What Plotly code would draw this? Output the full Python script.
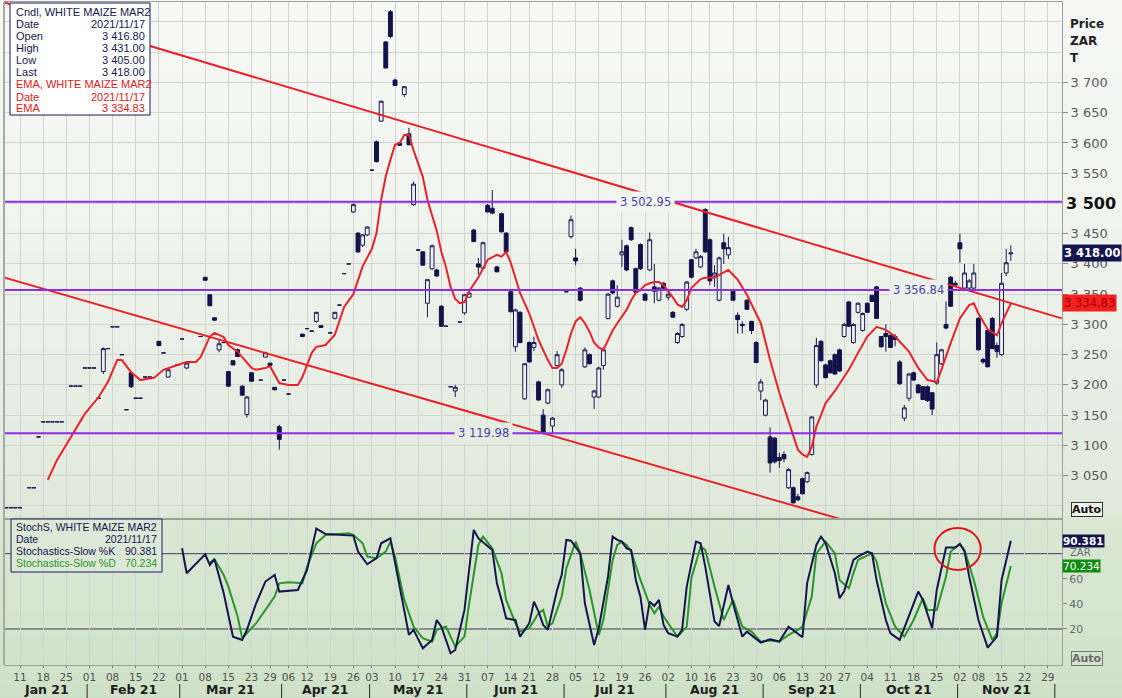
import plotly.graph_objects as go
import pandas as pd

# ------------------------------------------------------------------ data
holidays = ["2021-03-22", "2021-04-02", "2021-04-05", "2021-04-27",
            "2021-06-16", "2021-08-09", "2021-09-24", "2021-11-01"]
calendar_start = "2021-01-04"
calendar_end = "2021-12-03"

candle_dates = [
    "2021-01-06", "2021-01-07", "2021-01-08",
    "2021-01-11", "2021-01-13", "2021-01-14", "2021-01-15",
    "2021-01-18", "2021-01-19", "2021-01-20", "2021-01-21", "2021-01-22",
    "2021-01-26", "2021-01-27", "2021-01-28", "2021-01-29",
    "2021-02-01", "2021-02-02", "2021-02-03", "2021-02-04", "2021-02-05",
    "2021-02-08", "2021-02-09", "2021-02-10", "2021-02-11", "2021-02-12",
    "2021-02-15", "2021-02-16", "2021-02-17", "2021-02-18",
    "2021-02-22", "2021-02-23", "2021-02-24", "2021-02-26",
    "2021-03-01", "2021-03-02", "2021-03-05",
    "2021-03-08", "2021-03-09", "2021-03-10", "2021-03-11", "2021-03-12",
    "2021-03-15", "2021-03-16", "2021-03-17", "2021-03-18", "2021-03-19",
    "2021-03-23", "2021-03-25", "2021-03-26",
    "2021-03-29", "2021-03-30", "2021-03-31", "2021-04-01",
    "2021-04-06", "2021-04-09",
    "2021-04-12", "2021-04-13", "2021-04-14", "2021-04-15",
    "2021-04-19", "2021-04-20", "2021-04-21", "2021-04-22", "2021-04-23",
    "2021-04-26", "2021-04-28", "2021-04-29", "2021-04-30",
    "2021-05-03", "2021-05-04", "2021-05-05", "2021-05-06", "2021-05-07",
    "2021-05-10", "2021-05-11", "2021-05-12", "2021-05-13", "2021-05-14",
    "2021-05-17", "2021-05-18", "2021-05-19", "2021-05-20", "2021-05-21",
    "2021-05-24", "2021-05-25", "2021-05-26", "2021-05-27", "2021-05-28",
    "2021-05-31", "2021-06-01", "2021-06-02", "2021-06-03", "2021-06-04",
    "2021-06-07", "2021-06-08", "2021-06-09", "2021-06-10", "2021-06-11",
    "2021-06-14", "2021-06-15", "2021-06-17", "2021-06-18",
    "2021-06-21", "2021-06-22", "2021-06-23", "2021-06-24", "2021-06-25",
    "2021-06-28", "2021-06-29", "2021-06-30", "2021-07-01", "2021-07-02",
    "2021-07-05", "2021-07-06", "2021-07-07", "2021-07-08", "2021-07-09",
    "2021-07-12", "2021-07-13", "2021-07-14", "2021-07-15", "2021-07-16",
    "2021-07-19", "2021-07-20", "2021-07-21", "2021-07-22", "2021-07-23",
    "2021-07-26", "2021-07-27", "2021-07-28", "2021-07-29", "2021-07-30",
    "2021-08-02", "2021-08-03", "2021-08-04", "2021-08-05", "2021-08-06",
    "2021-08-10", "2021-08-11", "2021-08-12", "2021-08-13",
    "2021-08-16", "2021-08-17", "2021-08-18", "2021-08-19", "2021-08-20",
    "2021-08-23", "2021-08-24", "2021-08-25", "2021-08-26", "2021-08-27",
    "2021-08-30", "2021-08-31", "2021-09-01", "2021-09-02", "2021-09-03",
    "2021-09-06", "2021-09-07", "2021-09-08", "2021-09-09", "2021-09-10",
    "2021-09-13", "2021-09-14", "2021-09-15", "2021-09-16", "2021-09-17",
    "2021-09-20", "2021-09-21", "2021-09-22", "2021-09-23",
    "2021-09-27", "2021-09-28", "2021-09-29", "2021-09-30", "2021-10-01",
    "2021-10-04", "2021-10-05", "2021-10-06", "2021-10-07", "2021-10-08",
    "2021-10-11", "2021-10-12", "2021-10-13", "2021-10-14", "2021-10-15",
    "2021-10-18", "2021-10-19", "2021-10-20", "2021-10-21", "2021-10-22",
    "2021-10-25", "2021-10-26", "2021-10-27", "2021-10-28", "2021-10-29",
    "2021-11-02", "2021-11-03", "2021-11-04", "2021-11-05",
    "2021-11-08", "2021-11-09", "2021-11-10", "2021-11-11", "2021-11-12",
    "2021-11-15", "2021-11-16", "2021-11-17",
]
candle_open = [
    2997, 2997, 2997,
    2997, 3030, 3030, 3114,
    3139, 3139, 3139, 3139, 3139,
    3198, 3198, 3198, 3228,
    3228, 3228, 3178, 3222, 3260,
    3296, 3296, 3250, 3159, 3220,
    3178, 3178, 3213, 3213,
    3272, 3253, 3213, 3233,
    3276, 3228, 3280,
    3378, 3349, 3311, 3258, 3270,
    3222, 3240, 3258, 3198, 3151,
    3220, 3208, 3246,
    3236, 3196, 3131, 3208,
    3185, 3284,
    3293, 3289, 3305, 3298,
    3286, 3310, 3332, 3384, 3400,
    3486, 3451, 3431, 3448,
    3555, 3602, 3636, 3767, 3817,
    3704, 3600, 3680, 3615, 3498,
    3423, 3420, 3335, 3392, 3390,
    3330, 3297, 3197, 3190, 3304,
    3319, 3345, 3456, 3400, 3393,
    3497, 3492, 3395, 3483, 3451,
    3354, 3263, 3320, 3177,
    3270, 3262, 3205, 3150, 3170,
    3132, 3232, 3200, 3354, 3445,
    3410, 3360, 3230, 3250, 3180,
    3180, 3232, 3310, 3372, 3330,
    3415, 3430, 3460, 3392, 3432,
    3350, 3390, 3362, 3340, 3368,
    3345, 3320, 3270, 3280, 3325,
    3407, 3410, 3395, 3490,
    3440, 3380, 3340, 3435, 3415,
    3355, 3315, 3300, 3340, 3305,
    3270, 3190, 3150, 3114, 3112,
    3080, 3085, 3030, 3030, 3015,
    3045, 3040, 3085, 3200, 3272,
    3233, 3240, 3250, 3258,
    3280, 3337, 3270, 3320, 3290,
    3335, 3348, 3362, 3280, 3285,
    3282, 3280, 3238, 3145, 3178,
    3220, 3200, 3197, 3197, 3187,
    3203, 3235, 3300, 3378, 3368,
    3435, 3360, 3360, 3360,
    3310, 3242, 3290, 3310, 3265,
    3250, 3385, 3416.8,
]
candle_high = [
    2997, 2997, 2997,
    2997, 3030, 3030, 3114,
    3139, 3139, 3139, 3139, 3139,
    3198, 3198, 3198, 3228,
    3228, 3228, 3178, 3262, 3260,
    3296, 3296, 3250, 3159, 3222,
    3178, 3178, 3213, 3213,
    3272, 3253, 3226, 3233,
    3276, 3237, 3280,
    3378, 3350, 3311, 3274, 3270,
    3223, 3240, 3260, 3199, 3182,
    3221, 3208, 3255,
    3236, 3196, 3134, 3208,
    3185, 3284,
    3293, 3289, 3321, 3298,
    3286, 3321, 3332, 3384, 3400,
    3500, 3452, 3449, 3462,
    3555, 3604, 3670, 3768, 3820,
    3706, 3601, 3694, 3625, 3536,
    3423, 3421, 3375, 3432, 3392,
    3332, 3297, 3197, 3200, 3304,
    3350, 3355, 3458, 3410, 3437,
    3499, 3522, 3397, 3485, 3452,
    3356, 3326, 3322, 3236,
    3272, 3280, 3207, 3160, 3194,
    3147, 3256, 3228, 3354, 3480,
    3425, 3362, 3262, 3252, 3192,
    3230, 3262, 3352, 3374, 3365,
    3440, 3432, 3462, 3394, 3434,
    3352, 3452, 3400, 3362, 3370,
    3357, 3322, 3287, 3302, 3372,
    3408, 3425, 3415, 3492,
    3442, 3398, 3412, 3450, 3445,
    3358, 3320, 3305, 3342, 3306,
    3272, 3210, 3177, 3130, 3114,
    3088, 3090, 3062, 3032, 3020,
    3047, 3057, 3148, 3278, 3274,
    3235, 3242, 3252, 3260,
    3302, 3339, 3302, 3336, 3320,
    3336, 3349, 3364, 3281, 3300,
    3283, 3284, 3241, 3167, 3220,
    3222, 3201, 3198, 3199, 3188,
    3270, 3260, 3338, 3380, 3372,
    3450, 3400, 3375, 3400,
    3312, 3245, 3292, 3312, 3270,
    3385, 3425, 3431,
]
candle_low = [
    2997, 2997, 2997,
    2997, 3030, 3030, 3114,
    3139, 3139, 3139, 3139, 3139,
    3198, 3198, 3198, 3228,
    3228, 3228, 3178, 3218, 3260,
    3296, 3296, 3250, 3159, 3195,
    3178, 3178, 3213, 3213,
    3265, 3253, 3212, 3233,
    3276, 3226, 3280,
    3372, 3330, 3306, 3254, 3270,
    3197, 3233, 3246, 3182, 3146,
    3205, 3208, 3245,
    3231, 3191, 3093, 3208,
    3185, 3279,
    3293, 3289, 3303, 3294,
    3286, 3308, 3332, 3384, 3400,
    3484, 3418, 3428, 3446,
    3555, 3568, 3635, 3723, 3773,
    3694, 3595, 3676, 3596, 3496,
    3423, 3397, 3312, 3390, 3379,
    3296, 3297, 3197, 3180, 3304,
    3316, 3344, 3436, 3383, 3391,
    3485, 3482, 3386, 3452, 3418,
    3320, 3255, 3269, 3175,
    3237, 3256, 3174, 3118, 3168,
    3120, 3230, 3195, 3354, 3442,
    3398, 3338, 3228, 3234, 3160,
    3178, 3225, 3308, 3350, 3328,
    3395, 3388, 3438, 3352, 3390,
    3339, 3388, 3335, 3338, 3358,
    3340, 3311, 3268, 3278, 3322,
    3376, 3408, 3393, 3418,
    3365, 3362, 3338, 3400, 3408,
    3339, 3285, 3285, 3324, 3284,
    3236, 3175, 3148, 3055, 3070,
    3063, 3072, 3028, 3004, 3008,
    3019, 3038, 3083, 3195, 3239,
    3211, 3219, 3217, 3222,
    3278, 3296, 3268, 3318, 3288,
    3319, 3337, 3309, 3262, 3255,
    3261, 3264, 3200, 3140, 3173,
    3207, 3186, 3175, 3172, 3150,
    3200, 3233, 3292, 3329, 3362,
    3402, 3355, 3355, 3358,
    3257, 3235, 3229, 3259, 3245,
    3248, 3380, 3405,
]
candle_close = [
    2997, 2997, 2997,
    2997, 3030, 3030, 3114,
    3139, 3139, 3139, 3139, 3139,
    3198, 3198, 3198, 3228,
    3228, 3228, 3178, 3260, 3260,
    3296, 3296, 3250, 3159, 3197,
    3178, 3178, 3213, 3213,
    3265, 3253, 3225, 3233,
    3276, 3236, 3280,
    3373, 3331, 3307, 3268, 3270,
    3198, 3233, 3247, 3183, 3180,
    3206, 3208, 3253,
    3232, 3192, 3110, 3208,
    3185, 3280,
    3293, 3289, 3320, 3295,
    3286, 3320, 3332, 3384, 3400,
    3498, 3420, 3448, 3461,
    3555, 3569, 3669, 3724, 3776,
    3695, 3596, 3693, 3597, 3532,
    3423, 3398, 3374, 3430, 3380,
    3297, 3297, 3197, 3196, 3304,
    3349, 3352, 3437, 3395, 3435,
    3486, 3484, 3387, 3453, 3420,
    3321, 3324, 3270, 3235,
    3238, 3270, 3175, 3122, 3192,
    3145, 3250, 3225, 3354, 3473,
    3405, 3340, 3258, 3235, 3190,
    3228, 3258, 3350, 3352, 3345,
    3420, 3390, 3440, 3353, 3392,
    3340, 3440, 3355, 3360, 3360,
    3350, 3312, 3285, 3300, 3370,
    3378, 3420, 3412, 3420,
    3372, 3385, 3410, 3425, 3427,
    3340, 3308, 3298, 3325, 3290,
    3237, 3205, 3175, 3071, 3073,
    3075, 3078, 3060, 3005, 3010,
    3020, 3055, 3147, 3265, 3240,
    3212, 3220, 3218, 3223,
    3300, 3297, 3300, 3335, 3318,
    3320, 3338, 3310, 3263, 3280,
    3262, 3275, 3202, 3162, 3218,
    3208, 3187, 3176, 3174, 3160,
    3250, 3258, 3294, 3330, 3365,
    3425, 3385, 3372, 3385,
    3258, 3238, 3230, 3260, 3255,
    3368, 3402, 3418,
]

ema_dates = [
    "2021-01-19", "2021-01-21", "2021-01-26", "2021-01-29", "2021-02-03", "2021-02-05",
    "2021-02-09", "2021-02-10", "2021-02-12", "2021-02-16", "2021-02-19", "2021-02-23",
    "2021-02-26", "2021-03-02", "2021-03-04", "2021-03-05", "2021-03-09", "2021-03-10",
    "2021-03-12", "2021-03-15", "2021-03-17", "2021-03-23", "2021-03-24", "2021-03-26",
    "2021-03-29", "2021-03-31", "2021-04-06", "2021-04-08", "2021-04-09", "2021-04-13",
    "2021-04-14", "2021-04-16", "2021-04-20", "2021-04-22", "2021-04-26", "2021-04-29",
    "2021-05-03", "2021-05-04", "2021-05-05", "2021-05-06", "2021-05-07", "2021-05-10",
    "2021-05-11", "2021-05-12", "2021-05-13", "2021-05-14", "2021-05-18", "2021-05-19",
    "2021-05-20", "2021-05-21", "2021-05-24", "2021-05-25", "2021-05-26", "2021-05-27",
    "2021-05-28", "2021-05-31", "2021-06-01", "2021-06-03", "2021-06-07", "2021-06-09",
    "2021-06-10", "2021-06-11", "2021-06-14", "2021-06-17", "2021-06-21", "2021-06-23",
    "2021-06-25", "2021-06-28", "2021-06-29", "2021-06-30", "2021-07-01", "2021-07-02",
    "2021-07-05", "2021-07-06", "2021-07-07", "2021-07-08", "2021-07-09", "2021-07-12",
    "2021-07-13", "2021-07-14", "2021-07-15", "2021-07-16", "2021-07-20", "2021-07-21",
    "2021-07-22", "2021-07-23", "2021-07-26", "2021-07-27", "2021-07-28", "2021-07-29",
    "2021-07-30", "2021-08-03", "2021-08-04", "2021-08-05", "2021-08-06", "2021-08-10",
    "2021-08-11", "2021-08-12", "2021-08-13", "2021-08-17", "2021-08-18", "2021-08-20",
    "2021-08-24", "2021-08-26", "2021-08-31", "2021-09-02", "2021-09-06", "2021-09-08",
    "2021-09-10", "2021-09-13", "2021-09-14", "2021-09-15", "2021-09-16", "2021-09-17",
    "2021-09-20", "2021-09-22", "2021-09-28", "2021-09-30", "2021-10-04", "2021-10-06",
    "2021-10-08", "2021-10-12", "2021-10-15", "2021-10-19", "2021-10-21", "2021-10-25",
    "2021-10-26", "2021-10-28", "2021-11-02", "2021-11-04", "2021-11-05", "2021-11-08",
    "2021-11-10", "2021-11-12", "2021-11-15", "2021-11-17",
]
ema_values = [
    3043, 3076, 3114, 3152, 3180, 3205,
    3241, 3241, 3221, 3208, 3212, 3225,
    3233, 3238, 3238, 3246, 3280, 3286,
    3279, 3266, 3255, 3228, 3225, 3228,
    3231, 3203, 3200, 3200, 3213, 3253,
    3263, 3266, 3283, 3329, 3350, 3396,
    3425, 3451, 3506, 3545, 3572, 3597,
    3600, 3613, 3613, 3588, 3544, 3506,
    3480, 3455, 3420, 3395, 3362, 3342,
    3335, 3337, 3355, 3378, 3407, 3415,
    3412, 3420, 3402, 3352, 3318, 3274,
    3241, 3228, 3228, 3235, 3258, 3285,
    3305, 3312, 3302, 3288, 3270, 3262,
    3258, 3275, 3290, 3302, 3324, 3340,
    3352, 3357, 3365, 3368, 3370, 3370,
    3365, 3345, 3333, 3329, 3340, 3360,
    3368, 3375, 3377, 3377, 3382, 3390,
    3374, 3349, 3302, 3241, 3187, 3140,
    3093, 3085, 3081, 3098, 3131, 3150,
    3170, 3190, 3225, 3253, 3280, 3296,
    3291, 3280, 3255, 3228, 3208, 3205,
    3225, 3269, 3310, 3332, 3335, 3318,
    3292, 3282, 3302, 3334.83,
]

stoch_k_dates = [
    "2021-03-01", "2021-03-02", "2021-03-08", "2021-03-09", "2021-03-10", "2021-03-12",
    "2021-03-16", "2021-03-18", "2021-03-19", "2021-03-24", "2021-03-26", "2021-03-30",
    "2021-03-31", "2021-04-08", "2021-04-12", "2021-04-14", "2021-04-16", "2021-04-23",
    "2021-04-26", "2021-04-28", "2021-04-30", "2021-05-04", "2021-05-05", "2021-05-07",
    "2021-05-11", "2021-05-13", "2021-05-14", "2021-05-18", "2021-05-20", "2021-05-21",
    "2021-05-24", "2021-05-26", "2021-05-27", "2021-05-31", "2021-06-02", "2021-06-03",
    "2021-06-08", "2021-06-09", "2021-06-10", "2021-06-11", "2021-06-15", "2021-06-17",
    "2021-06-21", "2021-06-22", "2021-06-23", "2021-06-24", "2021-06-25", "2021-06-29",
    "2021-06-30", "2021-07-01", "2021-07-02", "2021-07-06", "2021-07-07", "2021-07-09",
    "2021-07-12", "2021-07-14", "2021-07-15", "2021-07-16", "2021-07-19", "2021-07-20",
    "2021-07-21", "2021-07-22", "2021-07-23", "2021-07-26", "2021-07-27", "2021-07-28",
    "2021-07-29", "2021-07-30", "2021-08-02", "2021-08-04", "2021-08-05", "2021-08-06",
    "2021-08-11", "2021-08-12", "2021-08-13", "2021-08-17", "2021-08-18", "2021-08-20",
    "2021-08-23", "2021-08-25", "2021-08-26", "2021-08-31", "2021-09-02", "2021-09-06",
    "2021-09-08", "2021-09-09", "2021-09-13", "2021-09-14", "2021-09-16", "2021-09-17",
    "2021-09-20", "2021-09-22", "2021-09-23", "2021-09-27", "2021-09-29", "2021-09-30",
    "2021-10-04", "2021-10-05", "2021-10-06", "2021-10-08", "2021-10-11", "2021-10-13",
    "2021-10-15", "2021-10-19", "2021-10-20", "2021-10-22", "2021-10-25", "2021-10-27",
    "2021-10-29", "2021-11-02", "2021-11-03", "2021-11-04", "2021-11-08", "2021-11-10",
    "2021-11-12", "2021-11-15", "2021-11-17",
]
stoch_k_values = [
    84.3, 64.4, 79.5, 71.0, 75.6, 48.5,
    13.9, 11.3, 19.3, 40.5, 57.8, 63.1,
    49.8, 51.1, 67.1, 100.0, 95.7, 94.4,
    94.4, 81.7, 71.6, 76.4, 88.3, 92.3,
    53.8, 15.3, 19.3, 4.6, 11.3, 27.2,
    21.9, 0.7, 3.3, 35.2, 98.9, 92.3,
    83.0, 56.4, 43.2, 28.5, 27.2, 13.9,
    24.6, 41.8, 33.9, 23.2, 19.3, 51.1,
    63.1, 91.0, 90.4, 80.3, 40.5, 7.3,
    20.6, 61.8, 93.6, 91.0, 89.6, 84.3,
    83.0, 59.1, 45.8, 19.3, 41.8, 38.4,
    43.2, 23.2, 16.6, 13.9, 19.3, 53.8,
    89.6, 88.3, 69.7, 25.9, 22.4, 55.1,
    40.5, 13.9, 17.9, 9.2, 11.8, 10.0,
    21.9, 19.3, 13.4, 56.4, 87.0, 93.6,
    88.3, 64.4, 44.5, 50.0, 75.0, 77.7,
    81.7, 80.3, 59.1, 27.2, 16.6, 11.3,
    29.9, 49.8, 43.2, 20.6, 51.1, 84.9,
    84.9, 87.8, 81.7, 62.0, 27.2, 5.2,
    13.9, 59.1, 90.381,
]
stoch_d_dates = [
    "2021-03-09", "2021-03-10", "2021-03-12", "2021-03-15", "2021-03-17", "2021-03-18",
    "2021-03-19", "2021-03-24", "2021-03-26", "2021-03-30", "2021-03-31", "2021-04-06",
    "2021-04-09", "2021-04-12", "2021-04-14", "2021-04-16", "2021-04-23", "2021-04-26",
    "2021-04-29", "2021-04-30", "2021-05-04", "2021-05-06", "2021-05-07", "2021-05-10",
    "2021-05-12", "2021-05-14", "2021-05-18", "2021-05-20", "2021-05-21", "2021-05-25",
    "2021-05-26", "2021-05-27", "2021-05-31", "2021-06-01", "2021-06-03", "2021-06-04",
    "2021-06-08", "2021-06-10", "2021-06-11", "2021-06-15", "2021-06-17", "2021-06-21",
    "2021-06-23", "2021-06-24", "2021-06-25", "2021-06-28", "2021-06-30", "2021-07-01",
    "2021-07-05", "2021-07-06", "2021-07-08", "2021-07-12", "2021-07-13", "2021-07-14",
    "2021-07-15", "2021-07-16", "2021-07-19", "2021-07-20", "2021-07-21", "2021-07-23",
    "2021-07-27", "2021-07-28", "2021-07-29", "2021-07-30", "2021-08-03", "2021-08-04",
    "2021-08-06", "2021-08-10", "2021-08-12", "2021-08-13", "2021-08-17", "2021-08-19",
    "2021-08-20", "2021-08-23", "2021-08-25", "2021-08-27", "2021-08-31", "2021-09-02",
    "2021-09-06", "2021-09-08", "2021-09-10", "2021-09-13", "2021-09-15", "2021-09-16",
    "2021-09-20", "2021-09-22", "2021-09-23", "2021-09-28", "2021-09-29", "2021-09-30",
    "2021-10-05", "2021-10-06", "2021-10-08", "2021-10-12", "2021-10-14", "2021-10-18",
    "2021-10-20", "2021-10-21", "2021-10-25", "2021-10-27", "2021-10-28", "2021-11-02",
    "2021-11-03", "2021-11-05", "2021-11-09", "2021-11-11", "2021-11-12", "2021-11-15",
    "2021-11-17",
]
stoch_d_values = [
    73.0, 75.6, 63.0, 53.8, 29.9, 12.6,
    16.6, 24.6, 35.2, 45.8, 56.4, 57.2,
    56.4, 69.7, 88.3, 94.9, 96.3, 95.0,
    88.3, 77.7, 76.4, 81.7, 89.6, 77.7,
    43.2, 21.9, 12.6, 9.9, 19.3, 21.9,
    13.9, 6.0, 13.9, 40.0, 87.0, 93.6,
    84.3, 64.4, 43.2, 24.6, 17.9, 20.6,
    32.5, 35.2, 21.9, 24.6, 45.8, 68.4,
    89.6, 80.3, 51.1, 15.3, 27.2, 50.0,
    75.0, 87.0, 89.6, 87.0, 81.7, 59.1,
    39.2, 32.5, 37.8, 29.9, 19.3, 13.9,
    21.9, 60.4, 85.6, 83.0, 53.8, 27.2,
    35.2, 43.2, 21.9, 17.9, 9.9, 10.8,
    10.0, 15.3, 19.3, 21.9, 45.8, 80.3,
    89.6, 80.3, 59.1, 52.5, 64.4, 75.0,
    80.3, 73.7, 40.5, 21.9, 13.9, 27.2,
    44.5, 35.2, 35.2, 61.8, 81.7, 87.8,
    83.0, 59.1, 29.9, 11.3, 16.6, 40.5,
    70.234,
]

level_values = [3502.95, 3356.84, 3119.98]
level_label_dates = ["2021-07-26", "2021-10-19", "2021-06-04"]

upper_channel_dates = ["2021-01-04", "2021-12-02"]
upper_channel_prices = [3836, 3310]
lower_channel_dates = ["2021-01-04", "2021-09-29"]
lower_channel_prices = [3381, 2972]

price_tick_values = [3050, 3100, 3150, 3200, 3250, 3300, 3350, 3400, 3450,
                     3550, 3600, 3650, 3700]
price_major_level = 3500
stoch_tick_values = [20, 40, 60]
stoch_band_levels = [20, 80]
highlight_dates = ["2021-10-25", "2021-11-08"]
highlight_levels = [67, 100.5]

instrument = "WHITE MAIZE MAR2"

# ------------------------------------------------------------------ helpers
assert len(candle_dates) == len(candle_open) == len(candle_high) == len(candle_low) == len(candle_close)
assert len(ema_dates) == len(ema_values)
assert len(stoch_k_dates) == len(stoch_k_values)
assert len(stoch_d_dates) == len(stoch_d_values)

W, H = 1122, 698
ML, MR, MT, MB = 5, 60, 2, 33
PW = W - ML - MR
PH = H - MT - MB


def px_x(px):
    return (px - ML) / PW


def px_y(py):
    return (H - MB - py) / PH


bdays = pd.bdate_range(calendar_start, calendar_end)
sessions = [d.strftime("%Y-%m-%d") for d in bdays if d.strftime("%Y-%m-%d") not in holidays]
pos = {d: i for i, d in enumerate(sessions)}
X0, X1 = 1.76, 230.05


def fmt_price(v):
    return f"{v:,.2f}".replace(",", " ")


def fmt_tick(v):
    return f"{v:,.0f}".replace(",", " ")


# gradient background (styling)
bg_stops = [(0, (247, 248, 246)), (200, (241, 244, 239)), (400, (231, 238, 228)),
            (518, (223, 233, 218)), (520, (217, 231, 211)), (665, (210, 227, 203)),
            (698, (205, 224, 197))]


def bg_color(py):
    for (a, ca), (b, cb) in zip(bg_stops[:-1], bg_stops[1:]):
        if a <= py <= b:
            t = 0 if b == a else (py - a) / (b - a)
            c = [round(ca[i] + (cb[i] - ca[i]) * t) for i in range(3)]
            return "rgb(%d,%d,%d)" % tuple(c)
    return "rgb(%d,%d,%d)" % bg_stops[-1][1]


FONT = "DejaVu Sans"
LFONT = "Liberation Sans"
NAVY = "#16164e"
RED = "#e8222a"
GREEN = "#2a962a"
PURPLE = "#8f2ee6"

shapes = []
step = 6
for y in range(0, H, step):
    shapes.append(dict(type="rect", xref="paper", yref="paper",
                       x0=px_x(0), x1=px_x(W), y0=px_y(y + step), y1=px_y(y),
                       fillcolor=bg_color(y + step / 2), line=dict(width=0), layer="below"))

# ------------------------------------------------------------------ traces
fig = go.Figure()

fig.add_trace(go.Candlestick(
    x=[pos[d] for d in candle_dates], open=candle_open, high=candle_high,
    low=candle_low, close=candle_close, xaxis="x2", yaxis="y",
    increasing=dict(line=dict(color="#1c1c52", width=1), fillcolor="#eeeef3"),
    decreasing=dict(line=dict(color="#12124a", width=1), fillcolor="#12124a"),
    whiskerwidth=0, showlegend=False, hoverinfo="skip"))

fig.add_trace(go.Scatter(x=[pos[d] for d in upper_channel_dates], y=upper_channel_prices,
                         mode="lines", line=dict(color=RED, width=2), xaxis="x2", yaxis="y",
                         showlegend=False, hoverinfo="skip"))
fig.add_trace(go.Scatter(x=[pos[d] for d in lower_channel_dates], y=lower_channel_prices,
                         mode="lines", line=dict(color=RED, width=2), xaxis="x2", yaxis="y",
                         showlegend=False, hoverinfo="skip"))
fig.add_trace(go.Scatter(x=[pos[d] for d in ema_dates], y=ema_values, mode="lines",
                         line=dict(color=RED, width=2), xaxis="x2", yaxis="y",
                         showlegend=False, hoverinfo="skip"))

fig.add_trace(go.Scatter(x=[pos[d] for d in stoch_d_dates], y=stoch_d_values, mode="lines",
                         line=dict(color=GREEN, width=2), xaxis="x", yaxis="y2",
                         showlegend=False, hoverinfo="skip"))
fig.add_trace(go.Scatter(x=[pos[d] for d in stoch_k_dates], y=stoch_k_values, mode="lines",
                         line=dict(color="#15154f", width=2), xaxis="x", yaxis="y2",
                         showlegend=False, hoverinfo="skip"))

# ------------------------------------------------------------------ shapes
for lv in level_values:
    shapes.append(dict(type="line", xref="paper", yref="y", x0=0, x1=1, y0=lv, y1=lv,
                       line=dict(color=PURPLE, width=2), layer="above"))
for lv in stoch_band_levels:
    shapes.append(dict(type="line", xref="paper", yref="y2", x0=0, x1=1, y0=lv, y1=lv,
                       line=dict(color="#3c3c5c", width=1), layer="below"))

shapes.append(dict(type="circle", xref="x", yref="y2",
                   x0=pos[highlight_dates[0]] - 0.5, x1=pos[highlight_dates[1]] + 0.5,
                   y0=highlight_levels[0], y1=highlight_levels[1],
                   line=dict(color="#e01414", width=2), layer="above"))

# left border bar
shapes.append(dict(type="line", xref="paper", yref="paper", x0=px_x(4), x1=px_x(4),
                   y0=0, y1=1, line=dict(color="#a4aca4", width=2)))

# legend boxes
shapes.append(dict(type="rect", xref="paper", yref="paper", x0=px_x(10), x1=px_x(150),
                   y0=px_y(115), y1=px_y(3), fillcolor="white",
                   line=dict(color="#1a1a5a", width=1), layer="above"))
shapes.append(dict(type="rect", xref="paper", yref="paper", x0=px_x(11), x1=px_x(162),
                   y0=px_y(572), y1=px_y(519), fillcolor="#dce9d7",
                   line=dict(color="#1a1a5a", width=1), layer="above"))

# ------------------------------------------------------------------ x ticks / months
week_vals, week_text = [], []
prev_week = None
for d in sessions:
    ts = pd.Timestamp(d)
    wk = ts.isocalendar()[1]
    if wk != prev_week:
        if X0 <= pos[d] <= X1:
            week_vals.append(pos[d])
            week_text.append(ts.strftime("%d"))
        prev_week = wk

annotations = []
months = {}
for d in sessions:
    months.setdefault(d[:7], []).append(pos[d])
for m, ps in months.items():
    a = max(ps[0] - 0.5, X0)
    b = min(ps[-1] + 0.5, X1)
    if ps[0] - 0.5 > X0:
        shapes.append(dict(type="line", xref="x", yref="paper", x0=ps[0] - 0.5, x1=ps[0] - 0.5,
                           y0=px_y(684), y1=px_y(698), line=dict(color="#2a2a2a", width=1)))
    if b - a >= 5:
        label = pd.Timestamp(m + "-01").strftime("%b %y")
        annotations.append(dict(x=(a + b) / 2, y=px_y(689.5), xref="x", yref="paper",
                                text="<b>%s</b>" % label, showarrow=False,
                                xanchor="center", yanchor="middle",
                                font=dict(family=FONT, size=12.5, color="#1e1e1e")))


def ann(px, py, text, color, anchor="left", size=11, family=LFONT, **kw):
    d = dict(x=px_x(px), y=px_y(py), xref="paper", yref="paper", text=text,
             showarrow=False, xanchor=anchor, yanchor="middle",
             font=dict(family=family, size=size, color=color))
    d.update(kw)
    annotations.append(d)


# main legend
last_date = candle_dates[-1].replace("-", "/")
ROW_RED = "#e01818"
ann(14, 12, "Cndl, %s" % instrument, NAVY)
for py, lab, val, col in [
    (24, "Date", last_date, NAVY),
    (36, "Open", fmt_price(candle_open[-1]), NAVY),
    (48, "High", fmt_price(candle_high[-1]), NAVY),
    (60, "Low", fmt_price(candle_low[-1]), NAVY),
    (72, "Last", fmt_price(candle_close[-1]), NAVY),
    (96.5, "Date", last_date, ROW_RED),
    (108.5, "EMA", fmt_price(ema_values[-1]), ROW_RED),
]:
    ann(14, py, lab, col)
    ann(147, py, val, col, anchor="right")
ann(14, 84, "EMA, %s" % instrument, ROW_RED)

# stoch legend
ann(14, 527, "StochS, %s" % instrument, NAVY, size=10.5)
ann(14, 539, "Date", NAVY, size=10.5)
ann(159, 539, last_date, NAVY, anchor="right", size=10.5)
ann(14, 551, "Stochastics-Slow %K", NAVY, size=10.5)
ann(159, 551, "%.3f" % stoch_k_values[-1], NAVY, anchor="right", size=10.5)
ann(14, 563, "Stochastics-Slow %D", GREEN, size=10.5)
ann(159, 563, "%.3f" % stoch_d_values[-1], GREEN, anchor="right", size=10.5)

# level labels
for lv, ld in zip(level_values, level_label_dates):
    py = 203.5 - (lv - 3500) * 0.605
    annotations.append(dict(x=pos[ld], y=lv, xref="x2", yref="y", text=fmt_price(lv),
                            showarrow=False, font=dict(family=FONT, size=11.5, color="#4a3fae"),
                            bgcolor=bg_color(py), borderpad=3))

# right axis decorations
ann(1068, 24, "<b>Price</b>", "#222222", size=12, family=FONT)
ann(1068, 41, "<b>ZAR</b>", "#222222", size=12, family=FONT)
ann(1068, 58, "<b>T</b>", "#222222", size=12, family=FONT)
annotations.append(dict(x=px_x(1064), y=price_major_level, xref="paper", yref="y",
                        text="<b>%s</b>" % fmt_tick(price_major_level), showarrow=False,
                        xanchor="left", yanchor="middle",
                        font=dict(family=FONT, size=16, color="#111111")))
annotations.append(dict(x=px_x(1062), y=candle_close[-1], xref="paper", yref="y",
                        text="<b>%s</b>" % fmt_price(candle_close[-1]), showarrow=False,
                        xanchor="left", yanchor="middle", bgcolor="#14144c", borderpad=1,
                        font=dict(family=FONT, size=11.5, color="white")))
annotations.append(dict(x=px_x(1062), y=ema_values[-1], xref="paper", yref="y",
                        text=fmt_price(ema_values[-1]), showarrow=False,
                        xanchor="left", yanchor="middle", bgcolor="#f52020", borderpad=1,
                        font=dict(family=FONT, size=11.5, color="#a00000")))
ann(1071, 510, "<b>Auto</b>", "#111111", size=11, family=FONT, bgcolor="#eef3ec",
    bordercolor="#333333", borderwidth=1, borderpad=0)

annotations.append(dict(x=px_x(1062), y=stoch_k_values[-1], xref="paper", yref="y2",
                        text="<b>%.3f</b>" % stoch_k_values[-1], showarrow=False,
                        xanchor="left", yanchor="middle", bgcolor="#14144c", borderpad=0,
                        font=dict(family=FONT, size=10.5, color="white")))
annotations.append(dict(x=px_x(1068), y=stoch_band_levels[1] + 1, xref="paper", yref="y2",
                        text="ZAR", showarrow=False, xanchor="left", yanchor="middle",
                        font=dict(family=FONT, size=10, color="#6a6a6a")))
annotations.append(dict(x=px_x(1062), y=stoch_d_values[-1], xref="paper", yref="y2",
                        text="%.3f" % stoch_d_values[-1], showarrow=False,
                        xanchor="left", yanchor="middle", bgcolor="#0e8c0e", borderpad=0,
                        font=dict(family=FONT, size=10.5, color="white")))
ann(1071, 658, "<b>Auto</b>", "#6a6a6a", size=11, family=FONT,
    bordercolor="#777777", borderwidth=1, borderpad=0)

# ------------------------------------------------------------------ layout
GRID = "#d0d6ce"
AXLINE = "#9aa29a"
fig.update_layout(
    width=W, height=H, margin=dict(l=ML, r=MR, t=MT, b=MB, pad=0),
    paper_bgcolor="#e6eee3", plot_bgcolor="rgba(0,0,0,0)",
    showlegend=False, hovermode=False, boxgap=0.12, boxgroupgap=0.05,
    shapes=shapes, annotations=annotations,
    xaxis=dict(domain=[0, 1], anchor="y2", range=[X0, X1], tickmode="array",
               tickvals=week_vals, ticktext=week_text, ticks="outside", ticklen=2,
               tickcolor="#777", tickfont=dict(family=FONT, size=10.5, color="#505050"),
               showgrid=True, gridcolor=GRID, zeroline=False, showline=True,
               linecolor=AXLINE, mirror=True, rangeslider=dict(visible=False)),
    xaxis2=dict(domain=[0, 1], anchor="y", matches="x", tickmode="array",
                tickvals=week_vals, showticklabels=False, ticks="",
                showgrid=True, gridcolor=GRID, zeroline=False, showline=True,
                linecolor=AXLINE, mirror=True, rangeslider=dict(visible=False)),
    yaxis=dict(domain=[px_y(518), 1], anchor="x2", side="right", range=[2980, 3833],
               tickmode="array", tickvals=price_tick_values,
               ticktext=[fmt_tick(v) for v in price_tick_values],
               tickfont=dict(family=FONT, size=13, color="#5a5a5a"),
               ticks="outside", ticklen=5, tickcolor="#8a8a8a",
               showgrid=True, gridcolor=GRID,
               minor=dict(tickmode="linear", tick0=3000, dtick=50, showgrid=True,
                          gridcolor=GRID, ticks=""),
               zeroline=False, showline=True, linecolor=AXLINE, mirror=True),
    yaxis2=dict(domain=[0, px_y(520)], anchor="x", side="right", range=[-8.69, 106.85],
                tickmode="array", tickvals=stoch_tick_values,
                ticktext=[str(v) for v in stoch_tick_values],
                tickfont=dict(family=FONT, size=11, color="#6a6a6a"),
                ticks="outside", ticklen=4, tickcolor="#8a8a8a", showgrid=False,
                zeroline=False, showline=True, linecolor=AXLINE, mirror=True),
)

fig.write_html("out.html", config={"displayModeBar": False},
               post_script="document.body.style.margin='0px';document.body.style.padding='0px';"
                           "document.documentElement.style.overflow='hidden';")
